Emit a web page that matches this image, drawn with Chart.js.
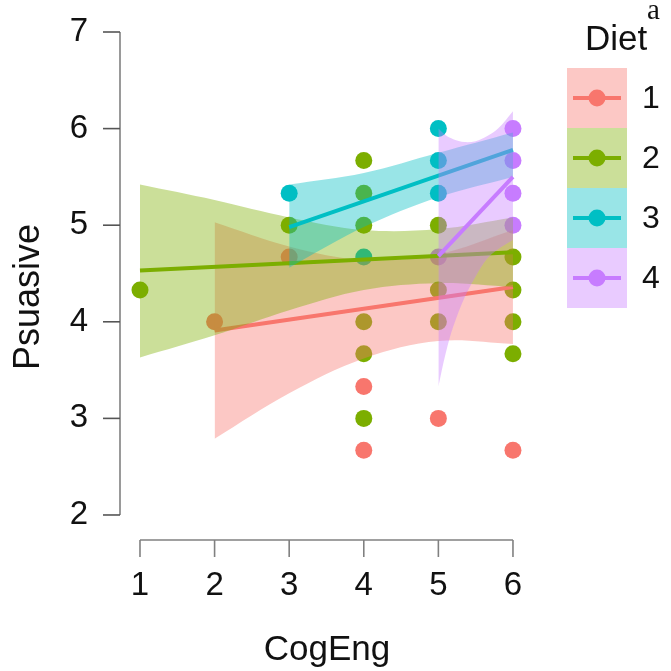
<!DOCTYPE html>
<html>
<head>
<meta charset="utf-8">
<script src="https://cdn.jsdelivr.net/npm/chart.js@4.4.1/dist/chart.umd.min.js"></script>
<style>
  html, body { margin: 0; padding: 0; background: #fff; }
  #wrap { width: 671px; height: 671px; }
</style>
</head>
<body>
<div id="wrap"><canvas id="chart" width="671" height="671"></canvas></div>
<script>
const cogEngTicks = [1, 2, 3, 4, 5, 6];
const psuasiveTicks = [2, 3, 4, 5, 6, 7];
const dietLabels = ["1", "2", "3", "4"];

// observed points, one pair of arrays per diet
const diet1X = [2, 3, 4, 4, 5, 6];
const diet1Y = [4.0, 4.67, 3.33, 2.67, 3.0, 2.67];
const diet2X = [1, 3, 4, 4, 4, 4, 4, 4, 5, 5, 5, 6, 6, 6, 6];
const diet2Y = [4.33, 5.0, 5.67, 5.33, 5.0, 4.0, 3.67, 3.0, 5.0, 4.33, 4.0, 4.67, 4.33, 4.0, 3.67];
const diet3X = [3, 4, 5, 5, 5];
const diet3Y = [5.33, 4.67, 6.0, 5.67, 5.33];
const diet4X = [5, 6, 6, 6, 6];
const diet4Y = [4.67, 6.0, 5.67, 5.33, 5.0];

// fitted lines
const diet1FitX = [2, 6];
const diet1FitY = [3.91, 4.36];
const diet2FitX = [1, 6];
const diet2FitY = [4.53, 4.72];
const diet3FitX = [3, 6];
const diet3FitY = [4.98, 5.78];
const diet4FitX = [5, 6];
const diet4FitY = [4.68, 5.5];

// confidence bands
const diet1BandX = [2, 3, 4, 5, 6];
const diet1BandHi = [5.03, 4.78, 4.64, 4.70, 4.95];
const diet1BandLo = [2.79, 3.26, 3.62, 3.80, 3.77];
const diet2BandX = [1, 2, 3, 4, 5, 6];
const diet2BandHi = [5.42, 5.26, 5.08, 4.95, 4.96, 5.08];
const diet2BandLo = [3.63, 3.86, 4.12, 4.33, 4.40, 4.36];
const diet3BandX = [3, 4, 5, 6];
const diet3BandHi = [5.42, 5.54, 5.75, 5.96];
const diet3BandLo = [4.56, 4.98, 5.29, 5.5];
const diet4BandX = [5, 5.1, 5.2, 5.35, 5.5, 5.65, 5.8, 6];
const diet4BandHi = [6.0, 5.93, 5.89, 5.86, 5.87, 5.92, 6.0, 6.18];
const diet4BandLo = [3.33, 3.68, 3.95, 4.25, 4.47, 4.65, 4.75, 4.85];

const dietColors = ["#F8766D", "#7CAE00", "#00BFC4", "#C77CFF"];
const bandColors = ["rgba(248,118,109,0.4)", "rgba(124,174,0,0.4)", "rgba(0,191,196,0.4)", "rgba(199,124,255,0.4)"];

const pointsX = [diet1X, diet2X, diet3X, diet4X];
const pointsY = [diet1Y, diet2Y, diet3Y, diet4Y];
const fitX = [diet1FitX, diet2FitX, diet3FitX, diet4FitX];
const fitY = [diet1FitY, diet2FitY, diet3FitY, diet4FitY];
const bandX = [diet1BandX, diet2BandX, diet3BandX, diet4BandX];
const bandHi = [diet1BandHi, diet2BandHi, diet3BandHi, diet4BandHi];
const bandLo = [diet1BandLo, diet2BandLo, diet3BandLo, diet4BandLo];

const toXY = (xs, ys) => xs.map((x, i) => ({ x: x, y: ys[i] }));

const FONT = "'Liberation Sans', Arial, Helvetica, sans-serif";

// build datasets: points at the bottom, then per diet band + line on top
const datasets = [];
let order = 100;
dietLabels.forEach((label, i) => {
    datasets.push({
        type: "scatter",
        label: "pts " + label,
        data: toXY(pointsX[i], pointsY[i]),
        pointRadius: 8.5,
        pointBackgroundColor: dietColors[i],
        pointBorderWidth: 0,
        showLine: false,
        order: order--,
    });
});
dietLabels.forEach((label, i) => {
    const loIndex = datasets.length + 1;
    datasets.push({
        type: "line",
        label: "hi " + label,
        data: toXY(bandX[i], bandHi[i]),
        borderWidth: 0,
        pointRadius: 0,
        tension: 0.35,
        backgroundColor: bandColors[i],
        fill: { target: loIndex },
        order: order--,
    });
    datasets.push({
        type: "line",
        label: "lo " + label,
        data: toXY(bandX[i], bandLo[i]),
        borderWidth: 0,
        pointRadius: 0,
        tension: 0.35,
        fill: false,
        order: order--,
    });
    datasets.push({
        type: "line",
        label: "fit " + label,
        data: toXY(fitX[i], fitY[i]),
        borderColor: dietColors[i],
        borderWidth: 4,
        pointRadius: 0,
        fill: false,
        order: order--,
    });
});

const cappedAxes = {
    id: "cappedAxes",
    afterDraw(chart) {
        const { ctx, chartArea, scales } = chart;
        const xs = scales.x;
        const ys = scales.y;
        ctx.save();
        ctx.strokeStyle = "#808080";
        ctx.lineWidth = 1.6;
        // y axis
        const axX = chartArea.left;
        ctx.beginPath();
        ctx.moveTo(axX, ys.getPixelForValue(psuasiveTicks[psuasiveTicks.length - 1]));
        ctx.lineTo(axX, ys.getPixelForValue(psuasiveTicks[0]));
        ctx.stroke();
        ctx.strokeStyle = "#555";
        psuasiveTicks.forEach((v) => {
            const py = ys.getPixelForValue(v);
            ctx.beginPath();
            ctx.moveTo(axX - 17, py);
            ctx.lineTo(axX, py);
            ctx.stroke();
        });
        // x axis
        const axY = chartArea.bottom;
        ctx.strokeStyle = "#808080";
        ctx.beginPath();
        ctx.moveTo(xs.getPixelForValue(cogEngTicks[0]), axY);
        ctx.lineTo(xs.getPixelForValue(cogEngTicks[cogEngTicks.length - 1]), axY);
        ctx.stroke();
        cogEngTicks.forEach((v) => {
            const px = xs.getPixelForValue(v);
            ctx.beginPath();
            ctx.moveTo(px, axY);
            ctx.lineTo(px, axY + 17);
            ctx.stroke();
        });
        // y title, centred a bit lower than the scale box
        ctx.fillStyle = "#111";
        ctx.font = "36px " + FONT;
        ctx.textAlign = "center";
        ctx.textBaseline = "middle";
        ctx.translate(29, 297);
        ctx.rotate(-Math.PI / 2);
        ctx.fillText("Psuasive", 0, 0);
        ctx.restore();
    },
};

const dietLegend = {
    id: "dietLegend",
    afterDraw(chart) {
        const ctx = chart.ctx;
        ctx.save();
        ctx.fillStyle = "#111";
        ctx.textAlign = "left";
        ctx.textBaseline = "alphabetic";
        ctx.font = "35px " + FONT;
        ctx.fillText("Diet", 585, 50);
        ctx.font = "29px 'Liberation Serif', 'Times New Roman', serif";
        ctx.fillText("a", 647, 19);
        dietLabels.forEach((label, i) => {
            const top = 68 + i * 60;
            const cy = top + 30;
            ctx.fillStyle = bandColors[i];
            ctx.fillRect(567, top, 60, 60);
            ctx.strokeStyle = dietColors[i];
            ctx.lineWidth = 4;
            ctx.beginPath();
            ctx.moveTo(573, cy);
            ctx.lineTo(621, cy);
            ctx.stroke();
            ctx.fillStyle = dietColors[i];
            ctx.beginPath();
            ctx.arc(597, cy, 8.5, 0, Math.PI * 2);
            ctx.fill();
            ctx.fillStyle = "#111";
            ctx.font = "32px " + FONT;
            ctx.textBaseline = "middle";
            ctx.fillText(label, 642, cy + 1);
        });
        ctx.restore();
    },
};

const hiddenGrid = (len) => ({
    display: true,
    drawOnChartArea: false,
    drawTicks: true,
    tickLength: len,
    color: "rgba(0,0,0,0)",
});

new Chart(document.getElementById("chart"), {
    type: "scatter",
    data: { datasets: datasets },
    options: {
        responsive: false,
        animation: false,
        layout: { padding: { left: 0, top: 32, right: 137, bottom: 0 } },
        plugins: {
            legend: { display: false },
            tooltip: { enabled: false },
        },
        scales: {
            x: {
                type: "linear",
                min: 0.732,
                max: 6.282,
                grid: hiddenGrid(26),
                border: { display: false },
                afterBuildTicks: (scale) => {
                    scale.ticks = cogEngTicks.map((v) => ({ value: v }));
                },
                afterFit: (scale) => {
                    scale.height = 131;
                },
                ticks: {
                    padding: 0,
                    color: "#111",
                    font: { family: FONT, size: 33 },
                    maxRotation: 0,
                    autoSkip: false,
                },
                title: {
                    display: true,
                    text: "CogEng",
                    color: "#111",
                    font: { family: FONT, size: 35 },
                    padding: { top: 0, bottom: 0 },
                },
            },
            y: {
                type: "linear",
                min: 1.741,
                max: 7,
                grid: hiddenGrid(32),
                border: { display: false },
                afterBuildTicks: (scale) => {
                    scale.ticks = psuasiveTicks.map((v) => ({ value: v }));
                },
                afterFit: (scale) => {
                    scale.width = 120;
                },
                ticks: {
                    padding: 0,
                    color: "#111",
                    font: { family: FONT, size: 33 },
                    autoSkip: false,
                },
            },
        },
    },
    plugins: [cappedAxes, dietLegend],
});
</script>
</body>
</html>
